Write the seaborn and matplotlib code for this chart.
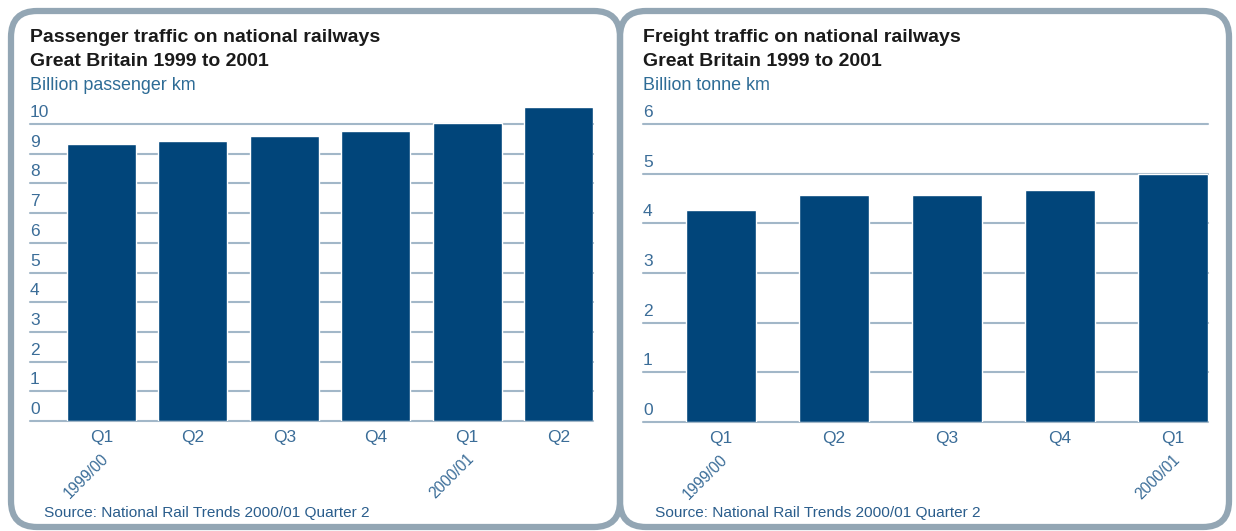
import matplotlib
matplotlib.use("Agg")
import matplotlib.pyplot as plt
import seaborn as sns
import pandas as pd
from matplotlib.patches import FancyBboxPatch
from matplotlib.transforms import Affine2D

sns.set_theme(style="white")
plt.rcParams["font.family"] = ["Liberation Sans", "DejaVu Sans"]

# Passenger traffic, billion passenger km per quarter
passenger_periods = ["1999/00 Q1", "1999/00 Q2", "1999/00 Q3", "1999/00 Q4",
                     "2000/01 Q1", "2000/01 Q2"]
passenger_quarters = ["Q1", "Q2", "Q3", "Q4", "Q1", "Q2"]
passenger_km = [9.32, 9.43, 9.60, 9.76, 10.02, 10.56]
passenger_ticks = [0, 1, 2, 3, 4, 5, 6, 7, 8, 9, 10]

# Freight traffic, billion tonne km per quarter
freight_periods = ["1999/00 Q1", "1999/00 Q2", "1999/00 Q3", "1999/00 Q4",
                   "2000/01 Q1"]
freight_quarters = ["Q1", "Q2", "Q3", "Q4", "Q1"]
freight_tonne_km = [4.27, 4.57, 4.57, 4.67, 5.00]
freight_ticks = [0, 1, 2, 3, 4, 5, 6]

# Financial-year labels placed under the first quarter of each year
year_labels = {0: "1999/00", 4: "2000/01"}

titles = [
    ("Passenger traffic on national railways", "Great Britain 1999 to 2001",
     "Billion passenger km"),
    ("Freight traffic on national railways", "Great Britain 1999 to 2001",
     "Billion tonne km"),
]
source_text = "Source: National Rail Trends 2000/01 Quarter 2"

BAR = "#01457a"
GRID = "#a2b7c8"
TICK = "#3b6d98"
SUB = "#2e6c96"
SRC = "#2a5d8c"
BORDER = "#93a6b4"

W, H = 1236, 531
fig = plt.figure(figsize=(W / 100, H / 100), dpi=100)
fig.patch.set_facecolor("white")

# pixel coordinates (origin top-left) -> figure
px = Affine2D().scale(1 / W, -1 / H).translate(0, 1) + fig.transFigure


def frac_rect(x0, y_top, x1, y_bot):
    return [x0 / W, (H - y_bot) / H, (x1 - x0) / W, (y_bot - y_top) / H]


# Rounded panel frames
for x0, x1 in [(11, 620), (620, 1229)]:
    fig.patches.append(FancyBboxPatch(
        (x0, 11), x1 - x0, 516, boxstyle="round,pad=0,rounding_size=26",
        transform=px, facecolor="none", edgecolor=BORDER, linewidth=4.5,
        zorder=0))

panels = [
    dict(periods=passenger_periods, quarters=passenger_quarters,
         values=passenger_km, ticks=passenger_ticks,
         rect=frac_rect(30, 106.2, 593, 421), ylim=(0, 10.6),
         xlim=(-0.78, 5.375), width=0.755, text_x=30, src_x=44),
    dict(periods=freight_periods, quarters=freight_quarters,
         values=freight_tonne_km, ticks=freight_ticks,
         rect=frac_rect(643, 124, 1208, 422), ylim=(0, 6),
         xlim=(-0.69, 4.31), width=0.62, text_x=643, src_x=655),
]

for p, (title1, title2, unit) in zip(panels, titles):
    ax = fig.add_axes(p["rect"])
    df = pd.DataFrame({"period": p["periods"], "value": p["values"]})
    sns.barplot(data=df, x="period", y="value", color=BAR, saturation=1,
                width=p["width"], ax=ax, zorder=3)
    ax.set_xlim(*p["xlim"])
    ax.set_ylim(*p["ylim"])
    ax.set_facecolor("none")
    for s in ax.spines.values():
        s.set_visible(False)
    ax.set_xlabel("")
    ax.set_ylabel("")
    ax.set_yticks([])
    for v in p["ticks"]:
        ax.axhline(v, color=GRID, linewidth=1.5, zorder=1, clip_on=False)
        ax.annotate(str(v), xy=(0, v), xycoords=("axes fraction", "data"),
                    xytext=(0, 5), textcoords="offset points", ha="left",
                    va="baseline", fontsize=12.5, color=TICK,
                    annotation_clip=False)
    ax.set_xticks(range(len(p["quarters"])))
    ax.set_xticklabels(p["quarters"])
    ax.tick_params(axis="x", length=0, pad=6.5, labelsize=12.5,
                   labelcolor=TICK)
    for i, lab in year_labels.items():
        if i < len(p["quarters"]):
            ax.annotate(lab, xy=(i, 0), xycoords=("data", "axes fraction"),
                        xytext=(-11, -39.5), textcoords="offset points",
                        rotation=45, ha="center", va="center",
                        fontsize=11.2, color=TICK, annotation_clip=False)

    tx = p["text_x"] / W
    fig.text(tx, 1 - 37 / H, title1, ha="left", va="center",
             fontsize=14, fontweight="bold", color="#1a1a1a")
    fig.text(tx, 1 - 61 / H, title2, ha="left", va="center",
             fontsize=14, fontweight="bold", color="#1a1a1a")
    fig.text(tx, 1 - 85 / H, unit, ha="left", va="center",
             fontsize=12.9, color=SUB)
    fig.text(p["src_x"] / W, 1 - 513 / H, source_text, ha="left",
             va="center", fontsize=11.1, color=SRC)

fig.savefig("out.png", dpi=100, facecolor="white")
